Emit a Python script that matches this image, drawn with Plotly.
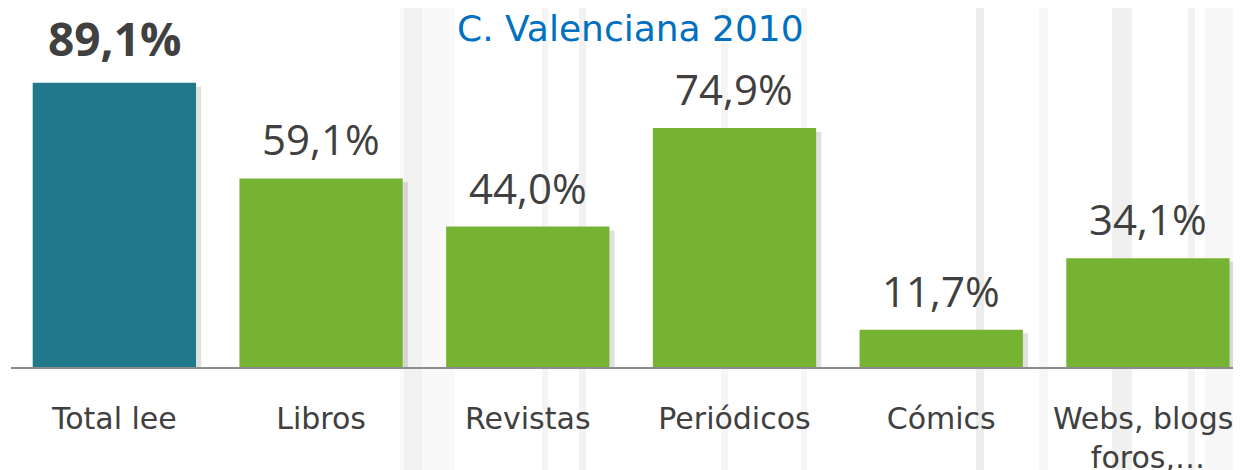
import plotly.graph_objects as go

# Lectura en la Comunidad Valenciana, 2010 (% de población)
categories = ["Total lee", "Libros", "Revistas", "Periódicos", "Cómics", "Webs, blogs,<br>foros,…"]
values = [89.1, 59.1, 44.0, 74.9, 11.7, 34.1]
labels = ["89,1%", "59,1%", "44,0%", "74,9%", "11,7%", "34,1%"]

TEAL = "#21788A"
GREEN = "#77B332"
TEXT = "#404040"
BAR_W = 0.79

bar_colors = [TEAL] + [GREEN] * (len(values) - 1)

fig = go.Figure()

# soft drop shadow behind the bars
fig.add_trace(go.Bar(
    x=categories, y=values, base=-1.2,
    width=BAR_W, offset=-BAR_W / 2 + 0.025,
    marker=dict(color="rgba(0,0,0,0.12)", line=dict(width=0)),
    hoverinfo="skip",
))
fig.add_trace(go.Bar(
    x=categories, y=values,
    width=BAR_W, offset=-BAR_W / 2,
    marker=dict(color=bar_colors, line=dict(width=0)),
    hoverinfo="skip",
))

# value labels above each bar, first one in bold
for i, (cat, val, lab) in enumerate(zip(categories, values, labels)):
    fig.add_annotation(
        x=cat, y=val, text=f"<b>{lab}</b>" if i == 0 else lab,
        showarrow=False, yanchor="bottom", yshift=12 if i == 0 else 9,
        font=dict(family="Open Sans", size=46 if i == 0 else 42, color=TEXT),
    )

fig.add_annotation(
    x=0.5, y=1, xref="paper", yref="paper", yanchor="top", yshift=2,
    text="C. Valenciana 2010", showarrow=False,
    font=dict(family="DejaVu Sans", size=36, color="#0070C0"),
)

# faint vertical streaks of the photo background (pixel positions)
streaks = [(400, 455, 0.025), (404, 422, 0.03), (542, 548, 0.045), (579, 586, 0.05),
           (721, 728, 0.04), (801, 807, 0.035), (976, 984, 0.07), (1039, 1048, 0.035),
           (1112, 1132, 0.06), (1188, 1195, 0.05), (1205, 1241, 0.03)]
for x0, x1, op in streaks:
    fig.add_shape(
        type="rect", xref="paper", yref="paper", layer="below",
        x0=(x0 - 11) / 1238, x1=(x1 - 11) / 1238, y0=-0.35, y1=1.05,
        fillcolor=f"rgba(0,0,0,{op})", line=dict(width=0),
    )

fig.update_layout(
    width=1241, height=470,
    margin=dict(l=3, r=0, t=0, b=111),
    plot_bgcolor="rgba(0,0,0,0)", paper_bgcolor="white",
    showlegend=False, barmode="overlay",
    xaxis=dict(
        range=[-0.5, 5.489], showgrid=False, zeroline=False,
        showline=True, linecolor="#8C8C8C", linewidth=2,
        ticks="", ticklabelstandoff=24, automargin=False,
        tickfont=dict(family="DejaVu Sans", size=30, color=TEXT),
    ),
    yaxis=dict(range=[0, 112.5], visible=False, showgrid=False,
               zeroline=False, automargin=False),
)

fig.write_html("out.html")
